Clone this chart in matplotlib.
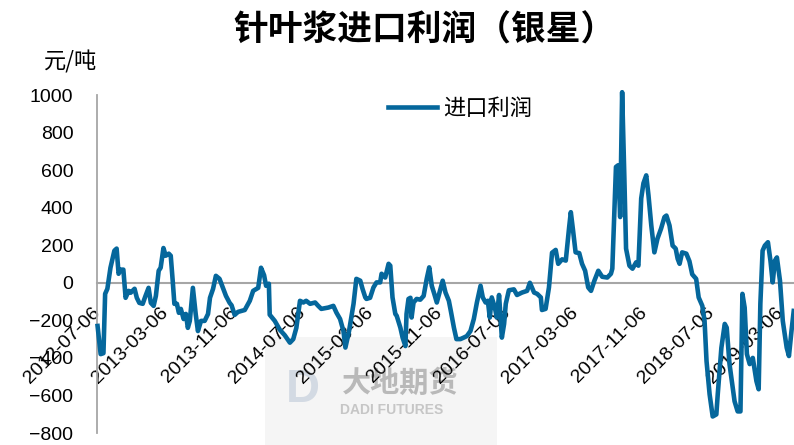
import matplotlib
matplotlib.use("Agg")
import matplotlib.pyplot as plt
import matplotlib.transforms as mtransforms
from matplotlib.patches import Rectangle
import pandas as pd

plt.rcParams['font.family'] = ['Liberation Sans', 'Noto Sans CJK SC', 'DejaVu Sans']

title = "针叶浆进口利润（银星）"
unit_label = "元/吨"
series_name = "进口利润"

dates = [
    "2012-07-06", "2012-07-17", "2012-07-27", "2012-08-02", "2012-08-10", "2012-08-21", "2012-09-04", "2012-09-12",
    "2012-09-19", "2012-09-26", "2012-10-06", "2012-10-14", "2012-10-25", "2012-11-01", "2012-11-15", "2012-11-23",
    "2012-12-02", "2012-12-14", "2012-12-24", "2013-01-04", "2013-01-12", "2013-01-22", "2013-01-30", "2013-02-09",
    "2013-02-16", "2013-02-26", "2013-03-06", "2013-03-17", "2013-03-24", "2013-03-31", "2013-04-06", "2013-04-15",
    "2013-04-22", "2013-04-29", "2013-05-09", "2013-05-17", "2013-05-24", "2013-05-31", "2013-06-11", "2013-06-21",
    "2013-06-29", "2013-07-10", "2013-07-23", "2013-08-04", "2013-08-11", "2013-08-22", "2013-09-01", "2013-09-14",
    "2013-09-26", "2013-10-07", "2013-10-20", "2013-10-27", "2013-11-07", "2013-11-19", "2013-12-13", "2013-12-31",
    "2014-01-12", "2014-01-30", "2014-02-09", "2014-02-20", "2014-02-27", "2014-03-09", "2014-03-12", "2014-03-30",
    "2014-04-17", "2014-05-05", "2014-05-23", "2014-06-04", "2014-06-15", "2014-06-28", "2014-07-10", "2014-07-20",
    "2014-08-03", "2014-08-21", "2014-09-01", "2014-09-12", "2014-10-07", "2014-10-25", "2014-11-05", "2014-11-18",
    "2014-11-30", "2014-12-07", "2014-12-20", "2015-01-05", "2015-01-15", "2015-01-29", "2015-02-06", "2015-02-16",
    "2015-02-20", "2015-03-05", "2015-03-17", "2015-03-28", "2015-04-10", "2015-04-15", "2015-04-28", "2015-05-10",
    "2015-05-16", "2015-05-24", "2015-06-03", "2015-06-08", "2015-06-21", "2015-06-29", "2015-07-09", "2015-07-13",
    "2015-07-20", "2015-07-27", "2015-07-31", "2015-08-07", "2015-08-18", "2015-08-31", "2015-09-12", "2015-09-23",
    "2015-10-02", "2015-10-11", "2015-10-20", "2015-10-29", "2015-11-11", "2015-11-19", "2015-11-29", "2015-12-11",
    "2015-12-18", "2015-12-29", "2016-01-07", "2016-01-21", "2016-02-02", "2016-02-13", "2016-02-26", "2016-03-09",
    "2016-03-20", "2016-04-02", "2016-04-10", "2016-04-20", "2016-04-28", "2016-05-05", "2016-05-12", "2016-05-23",
    "2016-05-30", "2016-06-07", "2016-06-17", "2016-06-25", "2016-07-01", "2016-07-12", "2016-07-30", "2016-08-10",
    "2016-08-28", "2016-09-15", "2016-09-25", "2016-10-10", "2016-10-21", "2016-11-03", "2016-11-07", "2016-11-20",
    "2016-12-02", "2016-12-13", "2016-12-26", "2017-01-04", "2017-01-18", "2017-01-31", "2017-02-12", "2017-02-18",
    "2017-02-26", "2017-03-07", "2017-03-20", "2017-03-30", "2017-04-10", "2017-04-21", "2017-05-01", "2017-05-13",
    "2017-05-27", "2017-06-10", "2017-06-28", "2017-07-11", "2017-07-16", "2017-07-29", "2017-08-06", "2017-08-13",
    "2017-08-20", "2017-08-28", "2017-09-03", "2017-09-15", "2017-09-26", "2017-10-09", "2017-10-17", "2017-10-27",
    "2017-11-04", "2017-11-14", "2017-11-22", "2017-12-02", "2017-12-13", "2017-12-24", "2018-01-06", "2018-01-18",
    "2018-01-25", "2018-02-05", "2018-02-16", "2018-02-27", "2018-03-06", "2018-03-13", "2018-03-22", "2018-04-06",
    "2018-04-17", "2018-04-27", "2018-05-11", "2018-05-20", "2018-06-02", "2018-06-10", "2018-06-17", "2018-06-28",
    "2018-07-09", "2018-07-22", "2018-07-27", "2018-08-09", "2018-08-21", "2018-08-28", "2018-09-07", "2018-09-25",
    "2018-10-06", "2018-10-16", "2018-10-23", "2018-10-31", "2018-11-08", "2018-11-18", "2018-11-29", "2018-12-12",
    "2018-12-20", "2018-12-26", "2019-01-03", "2019-01-11", "2019-01-22", "2019-01-31", "2019-02-08", "2019-02-16",
    "2019-02-23", "2019-03-06", "2019-03-16", "2019-03-30", "2019-04-07", "2019-04-16", "2019-04-24",
]

profit = [
    -230, -380, -375, -59, -32, 80, 171, 182,
    48, 70, 70, -80, -43, -53, -32, -80,
    -107, -112, -70, -27, -107, -123, -70, 64,
    80, 185, 144, 155, 144, 11, -112, -112,
    -160, -139, -193, -166, -240, -203, -27, -166,
    -257, -203, -203, -166, -80, -32, 37, 21,
    -27, -70, -107, -120, -171, -155, -145, -96,
    -43, -27, 80, 40, -16, -5, -170, -203,
    -250, -280, -319, -300, -240, -96, -105, -96,
    -112, -105, -123, -139, -132, -123, -159, -193,
    -257, -345, -257, -112, 21, 11, -32, -78,
    -86, -80, -25, 2, 2, 48, 28, 101,
    91, -78, -166, -176, -239, -292, -337, -166,
    -86, -80, -185, -105, -86, -90, -70, 21,
    82, -16, -59, -105, -32, 11, -52, -96,
    -150, -239, -300, -300, -292, -284, -257, -193,
    -105, -16, -78, -105, -96, -185, -78, -132,
    -185, -65, -292, -219, -112, -40, -35, -65,
    -52, -43, 0, -52, -59, -78, -145, -139,
    -25, 160, 175, 101, 125, 118, 296, 376,
    278, 162, 158, 101, 64, -25, -43, 11,
    64, 32, 28, 48, 75, 617, 626, 350,
    1015, 556, 182, 91, 75, 109, 91, 449,
    530, 572, 465, 305, 162, 235, 289, 350,
    358, 305, 198, 182, 128, 101, 162, 155,
    115, 45, 21, -78, -123, -203, -417, -594,
    -712, -701, -594, -346, -219, -239, -433, -631,
    -685, -685, -59, -132, -380, -433, -400, -524,
    -567, -112, 171, 198, 216, 118, 2, 118,
    135, 11, -203, -346, -390, -257, -150,
]

tick_dates = ["2012-07-06", "2013-03-06", "2013-11-06", "2014-07-06", "2015-03-06", "2015-11-06",
              "2016-07-06", "2017-03-06", "2017-11-06", "2018-07-06", "2019-03-06"]
y_ticks = [-800, -600, -400, -200, 0, 200, 400, 600, 800, 1000]

line_color = "#05679C"
axis_gray = "#A6A6A6"

W, H = 794, 445
fig = plt.figure(figsize=(W / 100, H / 100), dpi=100)
ax = fig.add_axes([97 / W, 1 - 433 / H, (794 - 97) / W, (433 - 95) / H])
ax.set_zorder(2)
ax.set_facecolor("none")

# faint watermark behind the chart
fig.patches.append(Rectangle((265 / W, 0), 232 / W, 108 / H, transform=fig.transFigure,
                             facecolor="#F5F5F5", edgecolor="none", zorder=0))
fig.text(303 / W, 1 - 390 / H, "D", fontsize=34, color="#D3DAE3",
         ha="center", va="center", fontweight="bold", zorder=1)
fig.text(400 / W, 1 - 383 / H, "大地期货", fontsize=21, color="#B9B9B9",
         family=['Noto Sans CJK SC', 'DejaVu Sans'], ha="center", va="center", fontweight="bold", zorder=1)
fig.text(392 / W, 1 - 410 / H, "DADI FUTURES", fontsize=10, color="#C6C6C6",
         ha="center", va="center", fontweight="bold", zorder=1)

x = pd.to_datetime(dates)
ax.plot(x, profit, color=line_color, lw=3.3, solid_joinstyle="round", label=series_name,
        clip_on=False, zorder=3)

ax.set_ylim(-800, 1000)
ax.set_yticks(y_ticks)
ax.set_xlim(pd.Timestamp("2012-07-04"), pd.Timestamp("2019-04-25"))
ax.set_xticks(pd.to_datetime(tick_dates))
ax.set_xticklabels(tick_dates)

for s in ["top", "right"]:
    ax.spines[s].set_visible(False)
ax.spines["left"].set_color(axis_gray)
ax.spines["left"].set_linewidth(1.3)
ax.spines["bottom"].set_position(("data", 0))
ax.spines["bottom"].set_color(axis_gray)
ax.spines["bottom"].set_linewidth(1.5)
ax.spines["bottom"].set_zorder(2)

ax.tick_params(axis="y", length=0, pad=17, labelsize=14)
ax.tick_params(axis="x", length=0, pad=0, labelsize=14)
for lab in ax.get_xticklabels():
    lab.set_rotation(45)
    lab.set_rotation_mode("anchor")
    lab.set_ha("right")
    lab.set_va("top")
    lab.set_transform(lab.get_transform() +
                      mtransforms.ScaledTranslation(-6 / 100, -21 / 100, fig.dpi_scale_trans))

fig.text(425 / W, 1 - 30 / H, title, fontsize=25, fontweight="bold", ha="center", va="center",
         family=['Noto Sans CJK SC', 'DejaVu Sans'])
fig.text(71 / W, 1 - 62 / H, unit_label, fontsize=16, ha="center", va="center",
         family=['Noto Sans CJK SC', 'DejaVu Sans'])

leg = ax.legend(loc="center", bbox_to_anchor=(460 / W, 1 - 108 / H), bbox_transform=fig.transFigure,
                frameon=False, handlelength=2.2, handletextpad=0.25, borderpad=0,
                prop={"family": ['Noto Sans CJK SC', 'DejaVu Sans'], "size": 16})

fig.savefig("out.png", dpi=100)
